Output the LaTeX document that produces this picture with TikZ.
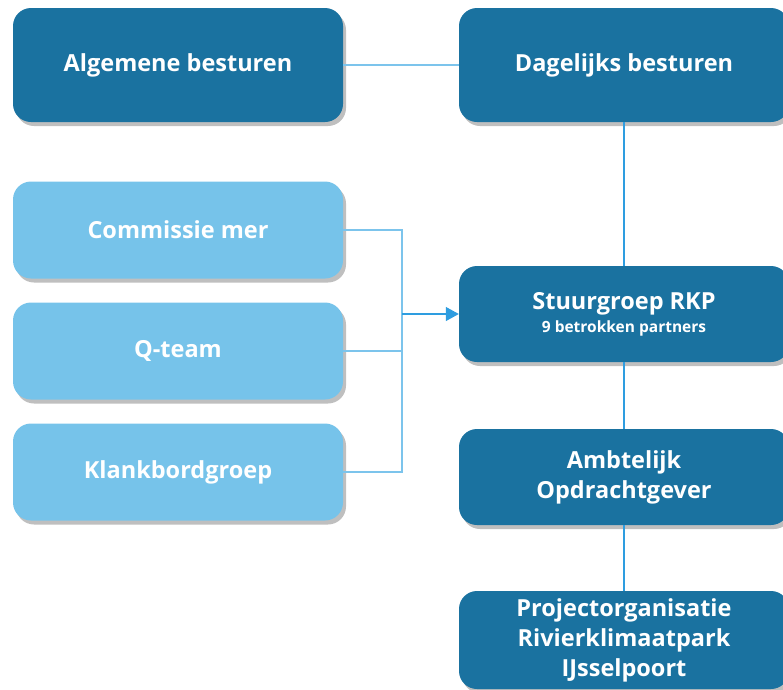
\documentclass[tikz,border=0pt]{standalone}
\usepackage{fontspec}
\setmainfont{Open Sans}
\usetikzlibrary{shadows,arrows.meta}
\definecolor{dark}{HTML}{1A72A0}
\definecolor{light}{HTML}{76C3EA}
\definecolor{lineL}{HTML}{7CC4EC}
\definecolor{lineD}{HTML}{2E9DE0}
\tikzset{
  box/.style={rounded corners=18pt, minimum width=330pt, text=white, align=center,
    font=\bfseries\fontsize{23.5}{30}\selectfont,
    drop shadow={shadow xshift=3pt, shadow yshift=-4pt, opacity=0.25, fill=black}},
  darkbox/.style={box, fill=dark},
  lightbox/.style={box, fill=light},
  lnL/.style={draw=lineL, line width=1.2pt},
  lnD/.style={draw=lineD, line width=1.2pt},
}
\begin{document}
\begin{tikzpicture}[x=1pt,y=-1pt]
\useasboundingbox (0,0) rectangle (783,689);
\begin{scope}
\clip (0,0) rectangle (783,689);
\node[darkbox, minimum height=114pt] (alg) at (178,65) {Algemene besturen};
\node[darkbox, minimum height=114pt] (dag) at (624,65) {Dagelijks besturen};
\node[lightbox, minimum height=97pt] (com) at (178,230) {Commissie mer};
\node[lightbox, minimum height=97pt] (q) at (178,351) {Q-team};
\node[lightbox, minimum height=97pt] (kla) at (178,472) {Klankbordgroep};
\node[darkbox, minimum height=96pt] (stu) at (624,314) {Stuurgroep RKP\\[-7pt]{\fontsize{15.5}{18}\selectfont 9 betrokken partners}};
\node[darkbox, minimum height=96pt] (amb) at (624,477) {Ambtelijk\\Opdrachtgever};
\node[darkbox, minimum height=98pt] (pro) at (624,640) {Projectorganisatie\\Rivierklimaatpark\\IJsselpoort};
\coordinate (j) at (402,314);
\draw[lnL] (alg.east) -- (dag.west);
\draw[lnD] (dag.south) -- (stu.north);
\draw[lnD] (stu.south) -- (amb.north);
\draw[lnD] (amb.south) -- (pro.north);
\draw[lnL] (com.east) -| (j);
\draw[lnL] (kla.east) -| (j);
\draw[lnL] (q.east) -- (q.east -| j);
\draw[draw=lineD, line width=1.2pt, -{Triangle[length=13pt,width=14pt]}] (j) -- (stu.west);
\end{scope}
\end{tikzpicture}
\end{document}
